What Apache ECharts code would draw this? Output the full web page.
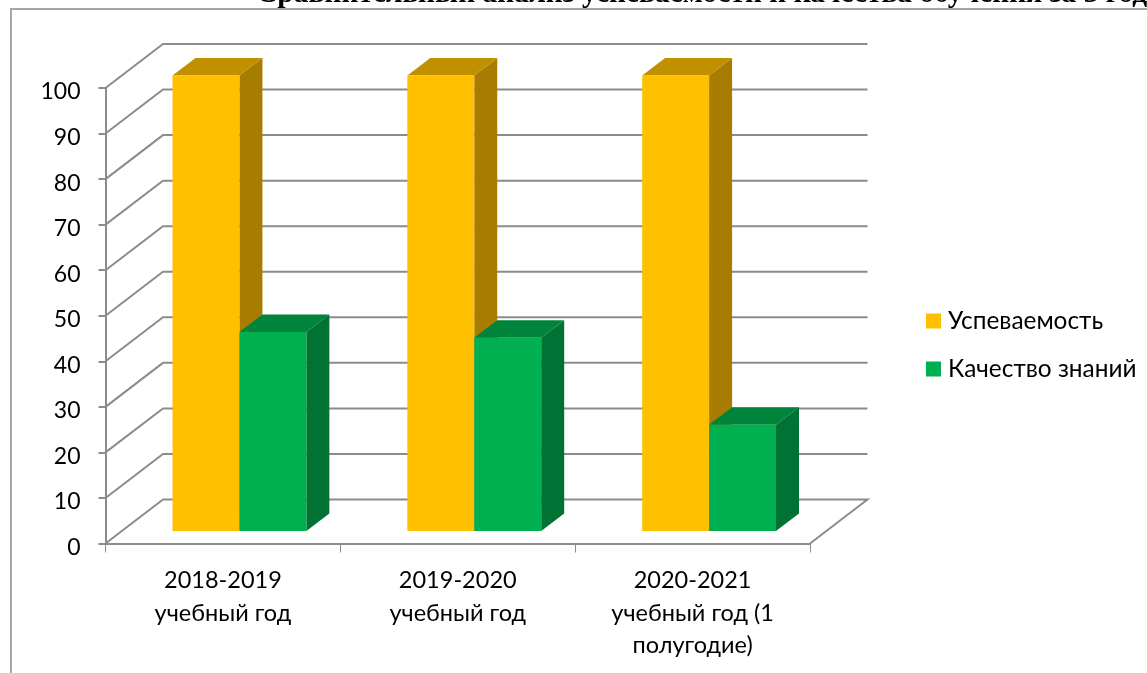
<!DOCTYPE html>
<html>
<head>
<meta charset="utf-8">
<title>Chart</title>
<script src="https://cdn.jsdelivr.net/npm/echarts@6/dist/echarts.min.js"></script>
<style>
    html, body { margin: 0; padding: 0; background: #fff; overflow: hidden; }
    #chart { width: 1147px; height: 673px; }
</style>
</head>
<body>
<div id="chart"></div>
<script>
// данные диаграммы
const categories = ['2018-2019\nучебный год', '2019-2020\nучебный год', '2020-2021\nучебный год (1\nполугодие)'];
const seriesNames = ['Успеваемость', 'Качество знаний'];
const progress = [100, 100, 100];
const quality = [43.7, 42.4, 23.3];
const yTicks = [0, 10, 20, 30, 40, 50, 60, 70, 80, 90, 100];
const titleText = 'Сравнительный анализ успеваемости и качества обучения за 3 года';

const labelFont = 'Lato, Carlito, "Open Sans", sans-serif';
const gridColor = '#8c8c8c';

// проекция глубины
const wallDx = 57.5, wallDy = -44;
const barDx = 23, barDy = -17.5;
const barShiftY = -12.5;
const barWidthRate = 0.285;

/**
 * Стены: линии сетки по боковой и задней стенке
 */
function renderWall(params, api) {
    const v = api.value(0);
    const front = api.coord([0, v]);
    const halfBand = api.size([1, 0])[0] / 2;
    const x0 = front[0] - halfBand;
    const y0 = front[1];
    const x1 = x0 + api.size([1, 0])[0] * categories.length;
    const points = [[x0, y0], [x0 + wallDx, y0 + wallDy], [x1 + wallDx, y0 + wallDy]];
    if (v === 0) {
        points.push([x1, y0]);
    }
    return {
        type: 'polyline',
        shape: { points: points },
        style: { stroke: gridColor, lineWidth: 2, fill: null }
    };
}

/**
 * Трёхмерный столбец: передняя грань, верх и бок
 */
function makeBar(seriesIndex, front, top, side) {
    return function (params, api) {
        const idx = api.value(0);
        const base = api.coord([idx, 0]);
        const head = api.coord([idx, api.value(1)]);
        const band = api.size([1, 0])[0];
        const w = band * barWidthRate;
        const center = base[0] + 16.5;
        const x0 = seriesIndex === 0 ? center - w : center;
        const x1 = x0 + w;
        const yb = base[1] + barShiftY;
        const yt = head[1] + barShiftY;
        return {
            type: 'group',
            children: [
                {
                    type: 'polygon',
                    shape: { points: [[x1, yb], [x1 + barDx, yb + barDy], [x1 + barDx, yt + barDy], [x1, yt]] },
                    style: { fill: side }
                },
                {
                    type: 'polygon',
                    shape: { points: [[x0, yt], [x0 + barDx, yt + barDy], [x1 + barDx, yt + barDy], [x1, yt]] },
                    style: { fill: top }
                },
                {
                    type: 'rect',
                    shape: { x: x0, y: yt, width: w, height: yb - yt },
                    style: { fill: front }
                }
            ]
        };
    };
}

const chart = echarts.init(document.getElementById('chart'), null, { renderer: 'canvas' });

chart.setOption({
    animation: false,
    backgroundColor: '#fff',
    title: {
        text: titleText,
        left: 251,
        top: -26,
        textStyle: { fontFamily: '"Liberation Serif", serif', fontSize: 29.5, fontWeight: 'bold', color: '#000' }
    },
    legend: {
        left: 921,
        top: 304,
        orient: 'vertical',
        data: seriesNames,
        icon: 'rect',
        itemWidth: 15,
        itemHeight: 15,
        itemGap: 24,
        textStyle: { fontFamily: labelFont, fontSize: 24.4, color: '#000', padding: [0, 0, 0, 2] }
    },
    grid: { left: 105.5, right: 337, top: 88, bottom: 129.5, containLabel: false },
    xAxis: {
        type: 'category',
        data: categories,
        axisLine: { lineStyle: { color: gridColor, width: 2 } },
        axisTick: { show: true, length: 9, lineStyle: { color: gridColor, width: 1 }, alignWithLabel: false },
        axisLabel: { interval: 0, margin: 21, fontFamily: labelFont, fontSize: 23.5, lineHeight: 32.5, color: '#000' }
    },
    yAxis: {
        type: 'value',
        min: 0,
        max: 100,
        interval: 10,
        axisLine: { show: true, lineStyle: { color: gridColor, width: 2 } },
        axisTick: { show: true, length: 7, lineStyle: { color: gridColor, width: 2 } },
        axisLabel: { margin: 25, fontFamily: labelFont, fontSize: 23, color: '#000', verticalAlign: 'top', lineHeight: 8 },
        splitLine: { show: false }
    },
    graphic: [
        { type: 'polyline', silent: true, shape: { points: [[11, 673], [11, 9], [1147, 9]] }, style: { stroke: '#a6a6a6', lineWidth: 2, fill: null } }
    ],
    series: [
        {
            type: 'custom',
            name: 'wall',
            silent: true,
            z: 1,
            renderItem: renderWall,
            encode: { y: 0 },
            data: yTicks.map(v => [v])
        },
        {
            type: 'custom',
            name: seriesNames[0],
            z: 2,
            itemStyle: { color: '#FFC000' },
            renderItem: makeBar(0, '#FFC000', '#C09000', '#A67D00'),
            encode: { x: 0, y: 1 },
            data: progress.map((v, i) => [i, v])
        },
        {
            type: 'custom',
            name: seriesNames[1],
            z: 3,
            itemStyle: { color: '#00B050' },
            renderItem: makeBar(1, '#00B050', '#00843C', '#007233'),
            encode: { x: 0, y: 1 },
            data: quality.map((v, i) => [i, v])
        }
    ]
});
</script>
</body>
</html>
